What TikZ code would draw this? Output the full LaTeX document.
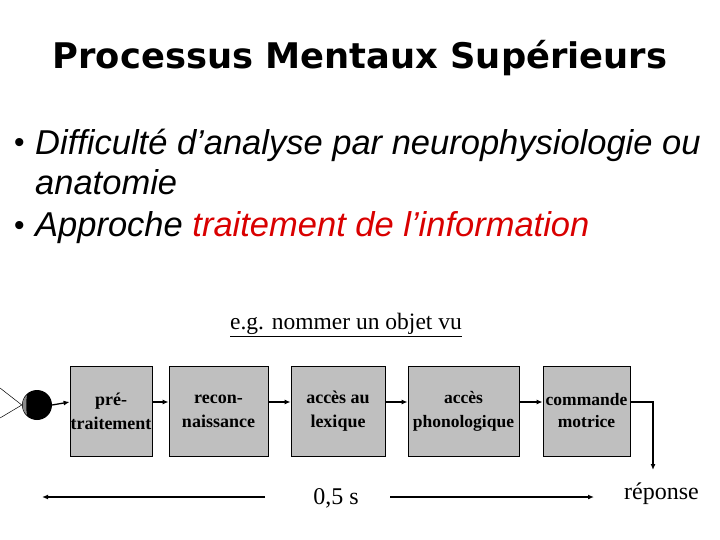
\documentclass[tikz,border=0pt]{standalone}
\usepackage{fontspec}
\setmainfont{Liberation Serif}
\newfontfamily\arialf{Liberation Sans}
\newfontfamily\titlef{DejaVu Sans}
\usetikzlibrary{arrows.meta}
\begin{document}
\begin{tikzpicture}[x=1pt,y=-1pt,
  proc/.style={draw=black,fill=black!25,line width=0.8pt,inner sep=0pt,align=center,font=\bfseries\fontsize{18}{24}\selectfont},
  flow/.style={line width=1.3pt,-{Latex[length=6pt,width=5pt]}},
  bul/.style={anchor=west,font=\arialf\itshape\fontsize{34.5}{40}\selectfont,inner sep=0pt}]
\useasboundingbox (0,0) rectangle (720,540);
\node[font=\titlef\bfseries\fontsize{35.3}{40}\selectfont] (title) at (360,58) {Processus Mentaux Supérieurs};
\node[bul,font=\arialf\fontsize{30}{34}\selectfont] (b1m) at (14,145) {•};
\node[bul] (b1) at (35,145) {Difficulté d’analyse par neurophysiologie ou};
\node[bul] (b1b) at (35,182) {anatomie};
\node[bul,font=\arialf\fontsize{30}{34}\selectfont] (b2m) at (14,228) {•};
\node[bul] (b2) at (35,228) {Approche \textcolor{red!85!black}{traitement de l’information}};
\node[font=\fontsize{23.5}{28}\selectfont] (eg) at (346,325) {\underline{e.g. nommer un objet vu}};
\node[proc,minimum width=82pt,minimum height=90pt] (p1) at (111,411) {pré-\\traitement};
\node[proc,minimum width=99pt,minimum height=90pt] (p2) at (218.5,411) {recon-\\naissance};
\node[proc,minimum width=94pt,minimum height=90pt] (p3) at (338,411) {accès au\\lexique};
\node[proc,minimum width=111pt,minimum height=90pt,font=\bfseries\fontsize{17.5}{24}\selectfont] (p4) at (463.5,411) {accès\\phonologique};
\node[proc,minimum width=87pt,minimum height=90pt,font=\bfseries\fontsize{17.5}{22}\selectfont] (p5) at (586.5,411) {commande\\motrice};
\node[circle,fill=black,minimum size=30pt,inner sep=0pt] (eye) at (37,405) {};
\fill[black!45] (27,395) .. controls (21,400) and (21,410) .. (27,415) .. controls (26,410) and (26,400) .. (27,395) -- cycle;
\coordinate (v1) at (0,388);
\coordinate (v2) at (0,418);
\draw[line width=0.5pt] (v1) -- (eye.west) -- (v2);
\draw[flow] (eye.east) -- (p1.west|-0,402);
\draw[flow] (p1.east|-0,402) -- (p2.west|-0,402);
\draw[flow] (p2.east|-0,402) -- (p3.west|-0,402);
\draw[flow] (p3.east|-0,402) -- (p4.west|-0,402);
\draw[flow] (p4.east|-0,402) -- (p5.west|-0,402);
\coordinate (c1) at (653,402);
\node[font=\fontsize{24}{28}\selectfont,anchor=west,inner sep=0pt] (rep) at (624,494) {réponse};
\draw[line width=1.3pt,-{Latex[length=6pt,width=5pt]}] (p5.east|-0,402) -- (c1) -- (653,470);
\node[font=\fontsize{24}{28}\selectfont] (t) at (336,498) {0,5 s};
\coordinate (l1) at (265,497);
\coordinate (l2) at (42,497);
\coordinate (r1) at (390,497);
\coordinate (r2) at (594,497);
\draw[flow] (l1) -- (l2);
\draw[flow] (r1) -- (r2);
\end{tikzpicture}
\end{document}
